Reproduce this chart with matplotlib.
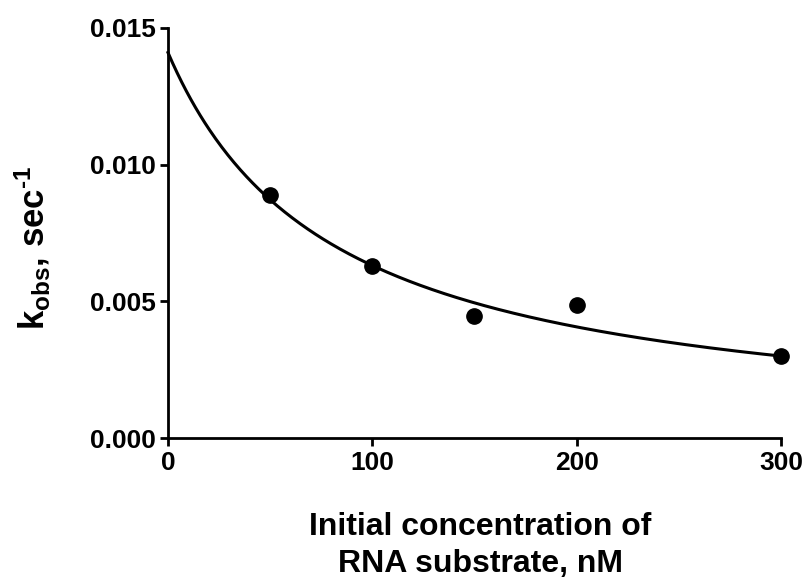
import numpy as np
import matplotlib
matplotlib.use('Agg')
import matplotlib.pyplot as plt

# measured k_obs vs initial RNA substrate concentration
conc_nM = [50, 100, 150, 200, 300]
kobs = [0.0089, 0.0063, 0.00447, 0.00485, 0.0030]

# hyperbolic fit: k0 / (1 + S/K)
k0 = 0.0141
K_half = 81.0

plt.rcParams['font.family'] = ['Liberation Sans', 'DejaVu Sans']
plt.rcParams['font.weight'] = 'bold'
plt.rcParams['mathtext.fontset'] = 'custom'
plt.rcParams['mathtext.rm'] = 'Liberation Sans:bold'
plt.rcParams['mathtext.it'] = 'Liberation Sans:bold'
plt.rcParams['mathtext.bf'] = 'Liberation Sans:bold'
plt.rcParams['mathtext.default'] = 'rm'

fig = plt.figure(figsize=(8.08, 5.83), dpi=100)
ax = fig.add_axes([0.2079, 0.2487, 0.7587, 0.7033])

xs = np.linspace(0, 300, 400)
ax.plot(xs, k0 / (1 + xs / K_half), color='black', lw=2.2, clip_on=False)
ax.plot(conc_nM, kobs, 'o', color='black', ms=11, clip_on=False)

ax.set_xlim(0, 300)
ax.set_ylim(0, 0.015)
ax.set_xticks([0, 100, 200, 300])
ax.set_yticks([0.0, 0.005, 0.010, 0.015])
ax.set_yticklabels(['0.000', '0.005', '0.010', '0.015'])

for s in ['top', 'right']:
    ax.spines[s].set_visible(False)
for s in ['left', 'bottom']:
    ax.spines[s].set_linewidth(2.0)
ax.tick_params(width=2.0, length=6, labelsize=19, pad=3)

ax.set_xlabel('Initial concentration of\nRNA substrate, nM', fontsize=23,
              fontweight='bold', linespacing=1.3)
ax.xaxis.set_label_coords(0.509, -0.18)
ax.set_ylabel('k$_{\\mathregular{obs}}$, sec$^{\\mathregular{\u20101}}$', fontsize=25,
              fontweight='bold')
ax.yaxis.set_label_coords(-0.19, 0.465)

fig.savefig('out.png', dpi=100, facecolor='white')
